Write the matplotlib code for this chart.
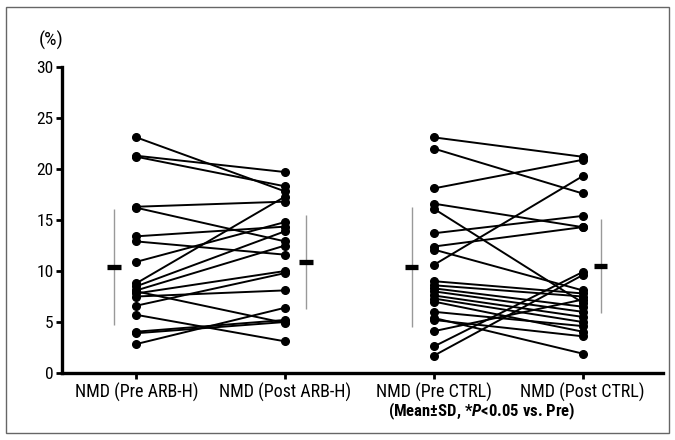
import matplotlib
matplotlib.use("Agg")
import matplotlib.pyplot as plt
from matplotlib.patches import Rectangle

# ---- data ----
categories = ["NMD (Pre ARB-H)", "NMD (Post ARB-H)", "NMD (Pre CTRL)", "NMD (Post CTRL)"]

arb_pre = [23.1, 21.3, 21.2, 16.3, 16.2, 13.4, 12.9, 10.9, 8.8, 8.5, 8.1, 7.8, 7.5, 8.0, 6.6, 5.7, 4.05, 3.9, 2.84]
arb_post = [17.8, 19.7, 18.3, 16.8, 12.9, 14.35, 11.6, 14.8, 17.3, 13.9, 12.5, 10.0, 8.1, 4.9, 9.8, 3.1, 5.2, 5.0, 6.4]

ctrl_pre = [23.1, 22.0, 18.1, 16.6, 16.1, 13.7, 12.4, 12.1, 10.6, 9.0, 8.6, 8.3, 8.0, 7.6, 7.3, 7.0, 6.0, 5.4, 5.2, 4.1, 2.6, 1.7]
ctrl_post = [21.2, 17.6, 20.9, 14.3, 6.9, 15.4, 14.3, 8.1, 19.3, 7.8, 7.5, 6.5, 6.0, 5.5, 5.0, 4.05, 4.6, 1.9, 3.6, 7.2, 9.9, 9.6]

means = [10.4, 10.9, 10.4, 10.5]
sds = [5.7, 4.6, 5.9, 4.6]

yticks = [0, 5, 10, 15, 20, 25, 30]

# ---- fonts ----
plt.rcParams["font.family"] = ["Roboto Condensed", "DejaVu Sans"]
plt.rcParams["mathtext.fontset"] = "custom"
plt.rcParams["mathtext.it"] = "Roboto Condensed:bold:italic"
plt.rcParams["mathtext.rm"] = "Roboto Condensed:bold"
plt.rcParams["mathtext.bf"] = "Roboto Condensed:bold"

fig = plt.figure(figsize=(6.75, 4.4), dpi=100)
ax = fig.add_axes([62 / 675, 1 - 373 / 440, (663 - 62) / 675, (373 - 67) / 440])

# paired lines
for pre, post, x0 in [(arb_pre, arb_post, 0), (ctrl_pre, ctrl_post, 2)]:
    for a, b in zip(pre, post):
        ax.plot([x0, x0 + 1], [a, b], color="black", lw=1.4, marker="o",
                markersize=5.5, markerfacecolor="black", markeredgecolor="black",
                solid_capstyle="round", zorder=3)

# mean +/- SD markers
offsets = [-0.15, 0.14, -0.15, 0.12]
for i, (m, s) in enumerate(zip(means, sds)):
    xc = i + offsets[i]
    ax.vlines(xc, m - s, m + s, color="#999999", lw=1.0, zorder=2)
    ax.hlines(m, xc - 0.045, xc + 0.045, color="black", lw=3.8, zorder=4)

ax.set_xlim(-0.5, 3.54)
ax.set_ylim(0, 30)
ax.set_yticks(yticks)
ax.set_yticklabels([str(t) for t in yticks], fontsize=12.5)
ax.set_xticks(range(len(categories)))
ax.set_xticklabels(categories, fontsize=13)

for side in ["top", "right"]:
    ax.spines[side].set_visible(False)
for side in ["left", "bottom"]:
    ax.spines[side].set_linewidth(2.4)
ax.tick_params(axis="both", direction="out", length=4, width=2, pad=2)
ax.tick_params(axis="x", pad=3)

fig.text(51 / 675, 1 - 40 / 440, "(%)", fontsize=14, ha="center", va="center")
fig.text(482 / 675, 1 - 411 / 440,
         r"(Mean±SD, *$\it{P}$<0.05 vs. Pre)", fontsize=12, fontweight="bold",
         ha="center", va="center")

# outer frame
fig.patches.append(Rectangle((6 / 675, 7 / 440), 663 / 675, 426 / 440,
                             transform=fig.transFigure, fill=False,
                             edgecolor="#666666", lw=1.0))

fig.savefig("out.png", dpi=100)
